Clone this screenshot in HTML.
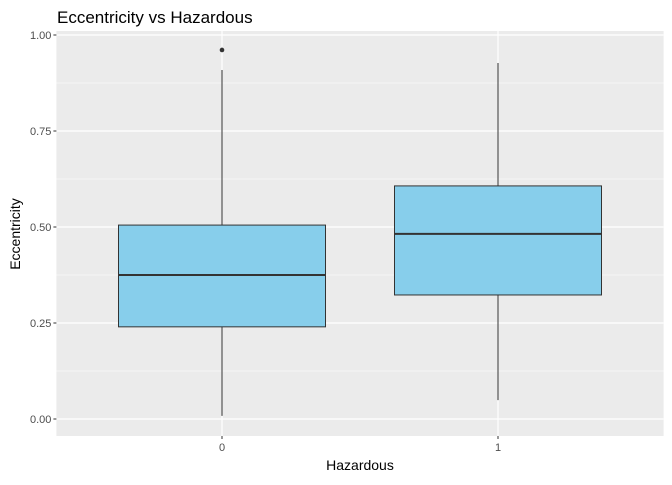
<!DOCTYPE html>
<html><head><meta charset="utf-8"><style>
body{margin:0;background:#fff;font-family:"Liberation Sans",Arial,sans-serif}
</style></head><body>
<svg id="c" width="672" height="480" xmlns="http://www.w3.org/2000/svg">
<rect width="672" height="480" fill="#fff"/>
<text x="57" y="23" font-size="17" fill="#000">Eccentricity vs Hazardous</text>
<text x="360" y="470" font-size="14" text-anchor="middle" fill="#000">Hazardous</text>
<text transform="translate(20,234) rotate(-90)" font-size="14" text-anchor="middle" fill="#000">Eccentricity</text>
<g id="g"></g>
</svg>
<script>
const categories=["0","1"];
const lowerWhisker=[0.008,0.049];
const q1=[0.240,0.323];
const median=[0.375,0.482];
const q3=[0.505,0.607];
const upperWhisker=[0.909,0.927];
const outliers=[[0.961],[]];
const yTicks=[0,0.25,0.5,0.75,1.0];
const yTickLabels=["0.00","0.25","0.50","0.75","1.00"];

const NS="http://www.w3.org/2000/svg";
const g=document.getElementById('g');
const PL=56.4,PR=663.6,PT=31,PB=436;
const y=v=>419-384*v;
const x=i=>PL+(i+1-0.4)*(PR-PL)/2.2;
const bw=0.75*(PR-PL)/2.2;
function mk(t,a){const e=document.createElementNS(NS,t);for(const k in a)e.setAttribute(k,a[k]);g.appendChild(e);return e;}
let e=mk('rect',{x:PL,y:PT,width:PR-PL,height:PB-PT,fill:'#EBEBEB'});


for(let i=0;i<yTicks.length-1;i++){const m=(yTicks[i]+yTicks[i+1])/2;
e=mk('line',{x1:PL,x2:PR,y1:y(m),y2:y(m),stroke:'#fff','stroke-width':0.6});

}
yTicks.forEach((v,i)=>{
e=mk('line',{x1:PL,x2:PR,y1:y(v),y2:y(v),stroke:'#fff','stroke-width':1.2});


e=mk('line',{x1:PL-3,x2:PL,y1:y(v),y2:y(v),stroke:'#333','stroke-width':1});


e=mk('text',{x:PL-5,y:y(v)+4,'font-size':11,'text-anchor':'end',fill:'#4D4D4D'});e.textContent=yTickLabels[i];


});
categories.forEach((c,i)=>{const cx=x(i);
e=mk('line',{x1:cx,x2:cx,y1:PT,y2:PB,stroke:'#fff','stroke-width':1.2});


e=mk('line',{x1:cx,x2:cx,y1:PB,y2:PB+3,stroke:'#333','stroke-width':1});


e=mk('text',{x:cx,y:PB+15,'font-size':11,'text-anchor':'middle',fill:'#4D4D4D'});e.textContent=c;


e=mk('line',{x1:cx,x2:cx,y1:y(upperWhisker[i]),y2:y(q3[i]),stroke:'#333','stroke-width':1});


e=mk('line',{x1:cx,x2:cx,y1:y(q1[i]),y2:y(lowerWhisker[i]),stroke:'#333','stroke-width':1});


e=mk('rect',{x:cx-bw/2,y:y(q3[i]),width:bw,height:y(q1[i])-y(q3[i]),fill:'#87CEEB',stroke:'#333','stroke-width':1});


e=mk('line',{x1:cx-bw/2,x2:cx+bw/2,y1:y(median[i]),y2:y(median[i]),stroke:'#333','stroke-width':2});


outliers[i].forEach(o=>{e=mk('circle',{cx:cx,cy:y(o),r:2.3,fill:'#333'});

});
});
</script>
</body></html>
